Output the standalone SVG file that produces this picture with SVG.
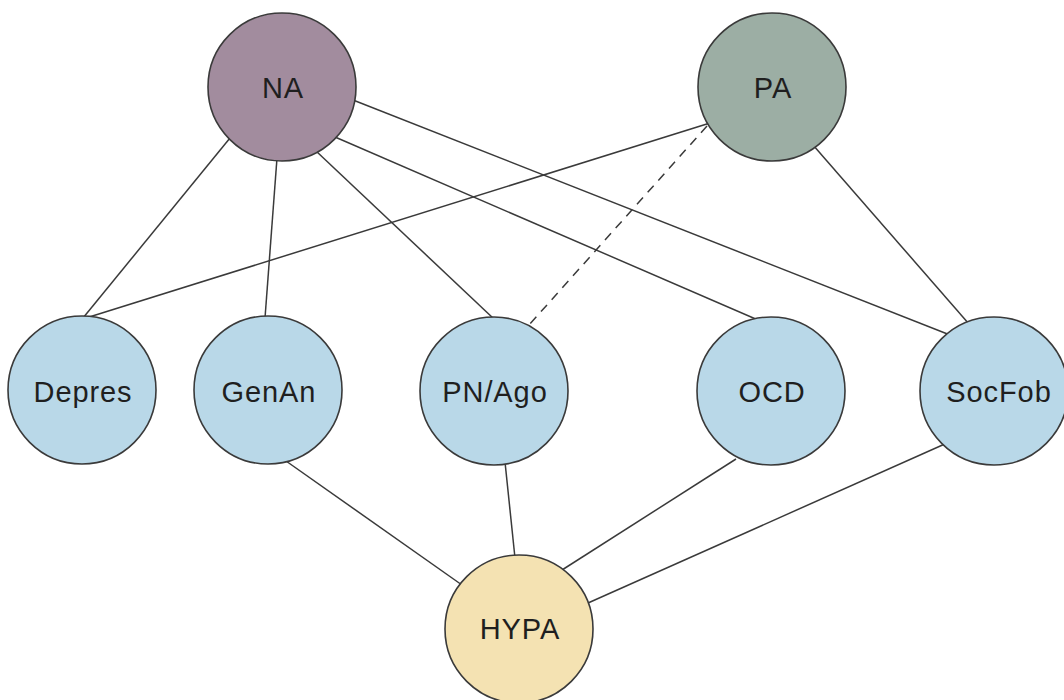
<svg xmlns="http://www.w3.org/2000/svg" width="1064" height="700" viewBox="0 0 1064 700">
  <style>
    .edge { stroke: #3a3a3a; stroke-width: 1.5; fill: none; }
    .dashed { stroke-dasharray: 9 7; }
    .node circle { stroke: #3a3a3a; stroke-width: 1.6; }
    .node text { font-family: "Liberation Sans", Arial, sans-serif; font-size: 29px; fill: #1f1f1f; text-anchor: middle; letter-spacing: 0.9px; }
    .na { fill: #a28c9e; }
    .pa { fill: #9caea4; }
    .dis { fill: #b9d8e8; }
    .hypa { fill: #f4e2b2; }
  </style>
  <rect width="1064" height="700" fill="#ffffff"/>

  <!-- links between the factors; circles are painted over the ends -->
  <g id="connectors">
    <line class="edge" x1="230" y1="138" x2="83" y2="318"/>
    <line class="edge" x1="277" y1="158" x2="265" y2="318"/>
    <line class="edge" x1="316" y1="151" x2="494" y2="319"/>
    <line class="edge" x1="335" y1="137" x2="758" y2="320"/>
    <line class="edge" x1="353" y1="100" x2="950" y2="335"/>
    <line class="edge" x1="710" y1="123" x2="86" y2="318"/>
    <line class="edge dashed" x1="707" y1="126" x2="529" y2="325"/>
    <line class="edge" x1="813" y1="145" x2="969" y2="324"/>
    <line class="edge" x1="286" y1="461" x2="462" y2="585"/>
    <line class="edge" x1="505" y1="462" x2="515" y2="558"/>
    <line class="edge" x1="736" y1="459" x2="562" y2="570"/>
    <line class="edge" x1="947" y1="443" x2="588" y2="603"/>
  </g>

  <g id="node-NA" class="node">
    <circle class="na" cx="282" cy="87" r="74"/>
    <text x="283" y="98">NA</text>
  </g>
  <g id="node-PA" class="node">
    <circle class="pa" cx="772" cy="87" r="74"/>
    <text x="773" y="98">PA</text>
  </g>
  <g id="node-Depres" class="node">
    <circle class="dis" cx="82" cy="390" r="74"/>
    <text x="83" y="402">Depres</text>
  </g>
  <g id="node-GenAn" class="node">
    <circle class="dis" cx="268" cy="390" r="74"/>
    <text x="269" y="402">GenAn</text>
  </g>
  <g id="node-PNAgo" class="node">
    <circle class="dis" cx="494" cy="391" r="74"/>
    <text x="495" y="402">PN/Ago</text>
  </g>
  <g id="node-OCD" class="node">
    <circle class="dis" cx="771" cy="391" r="74"/>
    <text x="772" y="402">OCD</text>
  </g>
  <g id="node-SocFob" class="node">
    <circle class="dis" cx="994" cy="391" r="74"/>
    <text x="999" y="402">SocFob</text>
  </g>
  <g id="node-HYPA" class="node">
    <circle class="hypa" cx="519" cy="629" r="74"/>
    <text x="520" y="639">HYPA</text>
  </g>
</svg>
